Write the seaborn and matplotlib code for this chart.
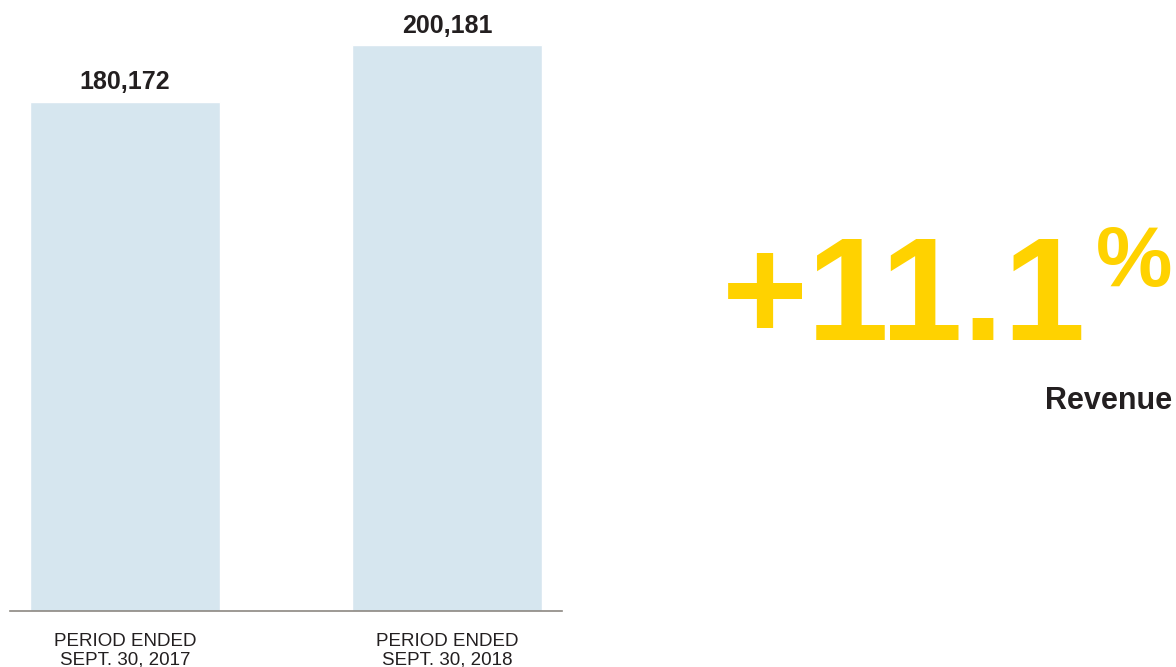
import pandas as pd
import matplotlib.pyplot as plt
import seaborn as sns

#------------------------------------------------
l_period=['PERIOD ENDED\nSEPT. 30, 2017', 'PERIOD ENDED\nSEPT. 30, 2018']
l_revenue=[180172, 200181]
growth='+11.1'
metric='Revenue'

c_bar='#d6e6ef'
c_txt='#231f20'
c_yel='#ffd200'

#########################################################
sns.set_style('white')
plt.rcParams['font.family']=['Liberation Sans', 'DejaVu Sans']

df=pd.DataFrame({'period': l_period, 'revenue': l_revenue})

fig=plt.figure(figsize=(11.76, 6.67), dpi=100)
ax=fig.add_axes([10/1176, 56/667, 552/1176, 611/667])

sns.barplot(data=df, x='period', y='revenue', color=c_bar, width=0.59,
            saturation=1, ax=ax)

#labels on bars
for i, v in enumerate(l_revenue):
    ax.text(i, v+4300, f'{v:,}', ha='center', va='baseline',
            fontsize=18, weight='bold', color=c_txt)

#adjust
ax.set_xlim(-0.357, 1.357)
ax.set_ylim(0, 611/566*max(l_revenue))
sns.despine(ax=ax, left=True, top=True, right=True)
ax.spines['bottom'].set_color('#8c8882')
ax.spines['bottom'].set_linewidth(1.2)
ax.set_yticks([])
ax.set_xlabel('')
ax.set_ylabel('')
ax.tick_params(axis='x', length=0, pad=16, labelsize=13.5, labelcolor=c_txt)
for t in ax.get_xticklabels():
    t.set_linespacing(1.08)

#growth callout
fig.text(722/1176, 1-340/667, growth, fontsize=106, weight='bold',
         color=c_yel, ha='left', va='baseline')
fig.text(1172/1176, 1-286/667, '%', fontsize=62, weight='bold',
         color=c_yel, ha='right', va='baseline')
fig.text(1172/1176, 1-409/667, metric, fontsize=22, weight='bold',
         color=c_txt, ha='right', va='baseline')

plt.savefig('out.png', dpi=100)
plt.close()
